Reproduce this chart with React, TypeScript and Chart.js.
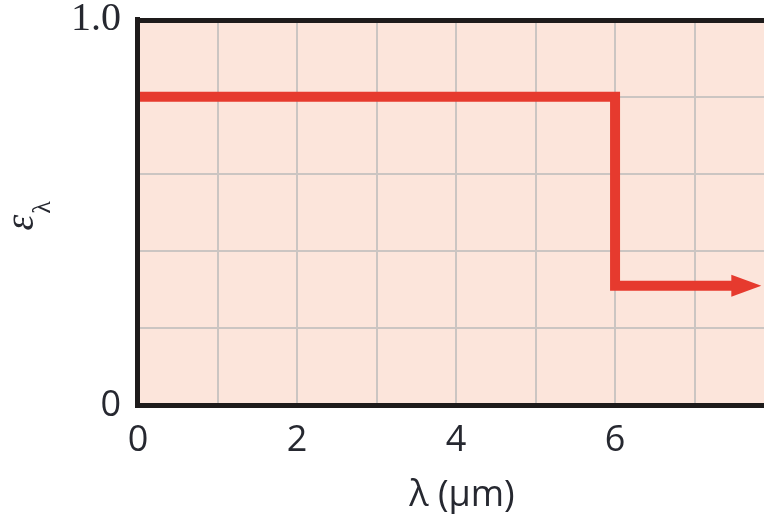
import React, { useEffect, useRef } from "react";
import { Chart, registerables } from "chart.js";

Chart.register(...registerables);

// ---- data ----
const lambdaUm = [0, 6, 7.5];
const emissivity = [0.8, 0.31, 0.31];
const xTickValues = [0, 2, 4, 6];
const yTickLabels: Record<string, string> = { "0": "0", "1": "1.0" };
const xTitle = "λ (μm)";
const yTitleMain = "ε";
const yTitleSub = "λ";

const CANVAS_W = 786;
const CANVAS_H = 514;
const RED = "#e63a2e";
const TEXT = "#262830";

const framePlugin = {
  id: "frame",
  beforeDraw(chart: any) {
    const { ctx, chartArea: a } = chart;
    ctx.save();
    ctx.fillStyle = "#fce5db";
    ctx.fillRect(a.left, a.top, a.right - a.left, a.bottom - a.top);
    ctx.restore();
  },
  afterDatasetsDraw(chart: any) {
    const { ctx, chartArea: a } = chart;
    ctx.save();
    // frame borders (left, top, bottom)
    ctx.fillStyle = "#1e1b1b";
    const w = 5;
    ctx.fillRect(a.left - w / 2 - 0.5, a.top - w / 2, w, a.bottom - a.top + w);
    ctx.fillRect(a.left - w / 2 - 0.5, a.top - w / 2 + 1, a.right - a.left + w, w);
    ctx.fillRect(a.left - w / 2 - 0.5, a.bottom - w / 2, a.right - a.left + w, w);
    // arrow head at the end of the line
    const meta = chart.getDatasetMeta(0);
    const p = meta.data[meta.data.length - 1];
    ctx.fillStyle = RED;
    ctx.beginPath();
    ctx.moveTo(p.x - 3, p.y - 11);
    ctx.lineTo(p.x + 27, p.y);
    ctx.lineTo(p.x - 3, p.y + 11);
    ctx.closePath();
    ctx.fill();
    ctx.restore();
  },
  afterDraw(chart: any) {
    const { ctx, chartArea: a } = chart;
    const cy = (a.top + a.bottom) / 2;
    ctx.save();
    ctx.fillStyle = TEXT;
    ctx.translate(33, cy + 18);
    ctx.rotate(-Math.PI / 2);
    ctx.textAlign = "left";
    ctx.textBaseline = "alphabetic";
    ctx.font = 'italic 40px "Liberation Serif"';
    ctx.fillText(yTitleMain, 0, 0);
    const wMain = ctx.measureText(yTitleMain).width;
    ctx.font = '26px "Liberation Serif"';
    ctx.fillText(yTitleSub, wMain + 1, 17);
    ctx.restore();
  },
};

export default function App() {
  const ref = useRef<HTMLCanvasElement | null>(null);

  useEffect(() => {
    document.body.style.margin = "0";
    const canvas = ref.current;
    if (!canvas) return;
    const points = lambdaUm.map((x, i) => ({ x, y: emissivity[i] }));
    const chart = new Chart(canvas, {
      type: "line",
      data: {
        datasets: [
          {
            data: points,
            borderColor: RED,
            backgroundColor: RED,
            borderWidth: 10,
            stepped: "before",
            pointRadius: 0,
            fill: false,
            borderJoinStyle: "miter",
            borderCapStyle: "butt",
          } as any,
        ],
      },
      plugins: [framePlugin],
      options: {
        animation: false,
        responsive: false,
        devicePixelRatio: 1,
        layout: { padding: { top: 19.5, left: 0, right: 0, bottom: 0 } },
        plugins: {
          legend: { display: false },
          tooltip: { enabled: false },
          title: { display: false },
        },
        scales: {
          x: {
            type: "linear",
            min: 0,
            max: 8.15,
            border: { display: false },
            grid: { color: "#cbc5c2", lineWidth: 2, drawTicks: false },
            ticks: {
              stepSize: 1,
              padding: 14,
              color: TEXT,
              font: { family: '"Open Sans"', size: 36 },
              maxRotation: 0,
              autoSkip: false,
              callback: (v: any) => (xTickValues.includes(Number(v)) ? String(v) : ""),
            },
            title: {
              display: true,
              text: xTitle,
              color: TEXT,
              font: { family: '"Open Sans"', size: 36 },
              padding: { top: 0, bottom: -3 },
            },
            afterFit: (s: any) => {
              s.height = 108.5;
              s.paddingLeft = 0;
              s.paddingRight = 0;
            },
          },
          y: {
            type: "linear",
            min: 0,
            max: 1,
            border: { display: false },
            grid: { color: "#cbc5c2", lineWidth: 2, drawTicks: false },
            ticks: {
              stepSize: 0.2,
              padding: 17,
              color: TEXT,
              autoSkip: false,
              font: (c: any) =>
                c.tick && Math.abs(c.tick.value - 1) < 1e-9
                  ? { family: '"Liberation Serif"', size: 40 }
                  : { family: '"Open Sans"', size: 36 },
              callback: (v: any) => {
                const n = Number(v);
                if (Math.abs(n) < 1e-9) return yTickLabels["0"];
                if (Math.abs(n - 1) < 1e-9) return yTickLabels["1"];
                return "";
              },
            },
            afterFit: (s: any) => {
              s.width = 138;
              s.paddingTop = 0;
              s.paddingBottom = 0;
            },
          },
        },
      } as any,
    });
    return () => chart.destroy();
  }, []);

  return (
    <div style={{ position: "absolute", left: 0, top: 0, width: 764, height: 514, overflow: "hidden", background: "#fff" }}>
      <canvas ref={ref} width={CANVAS_W} height={CANVAS_H} style={{ width: CANVAS_W, height: CANVAS_H, display: "block" }} />
    </div>
  );
}
